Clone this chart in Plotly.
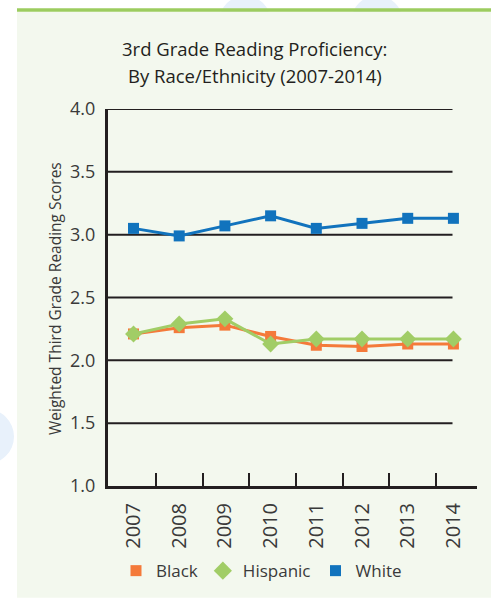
import plotly.graph_objects as go

# Weighted third grade reading scores by race/ethnicity
years = ["2007", "2008", "2009", "2010", "2011", "2012", "2013", "2014"]
black = [2.21, 2.26, 2.28, 2.19, 2.12, 2.11, 2.13, 2.13]
hispanic = [2.21, 2.29, 2.33, 2.13, 2.17, 2.17, 2.17, 2.17]
white = [3.05, 2.99, 3.07, 3.15, 3.05, 3.09, 3.13, 3.13]
y_ticks = [1.0, 1.5, 2.0, 2.5, 3.0, 3.5, 4.0]

W, H = 491, 601
L, R, T, B = 108, 14, 109, 111
PW, PH = W - L - R, H - T - B

ORANGE = "#f47a3a"
GREEN = "#a1cd66"
BLUE = "#1173bd"
INK = "#231f20"
TEXT = "#3a3a3a"
PANEL = "#f3f8ee"
WATERMARK = "#e8f1fb"
FONT = "Open Sans"


def px_x(px):
    return (px - L) / PW


def px_y(py):
    return (H - B - py) / PH


xpos = list(range(len(years)))

fig = go.Figure()
series = [("Black", black, ORANGE, "square", 11, 11),
          ("Hispanic", hispanic, GREEN, "diamond", 13, 14),
          ("White", white, BLUE, "square", 11, 11)]
for name, vals, color, symbol, size, leg_size in series:
    fig.add_trace(go.Scatter(
        x=xpos, y=vals, name=name, mode="lines+markers",
        line=dict(color=color, width=3),
        marker=dict(symbol=symbol, size=size, color=color),
        cliponaxis=False, showlegend=False, legendgroup=name,
    ))
    # marker-only legend entry
    fig.add_trace(go.Scatter(
        x=[None], y=[None], name=name, mode="markers",
        marker=dict(symbol=symbol, size=leg_size, color=color),
        showlegend=True, legendgroup=name,
    ))

shapes = []
# faint background emblems peeking around the panel
for cx, cy, r in [(245, 20, 25.5), (377, 20, 25.5), (-14, 440, 28)]:
    shapes.append(dict(type="circle", xref="paper", yref="paper", layer="below",
                       x0=px_x(cx - r), x1=px_x(cx + r),
                       y0=px_y(cy + r), y1=px_y(cy - r),
                       fillcolor=WATERMARK, line=dict(width=0)))
# light green panel with a green rule on top
shapes.append(dict(type="rect", xref="paper", yref="paper", layer="below",
                   x0=px_x(17), x1=px_x(W + 2), y0=px_y(H + 2), y1=px_y(10.7),
                   fillcolor=PANEL, line=dict(width=0)))
shapes.append(dict(type="rect", xref="paper", yref="paper", layer="below",
                   x0=px_x(17), x1=px_x(W + 2), y0=px_y(10.7), y1=px_y(7.3),
                   fillcolor="#9ccc5f", line=dict(width=0)))
# horizontal gridlines stop at the last year
for v in y_ticks[1:]:
    shapes.append(dict(type="line", xref="x", yref="y", layer="below",
                       x0=-0.56, x1=6.98, y0=v, y1=v,
                       line=dict(color=INK, width=2)))

annotations = [
    dict(text="3rd Grade Reading Proficiency:", xref="paper", yref="paper",
         x=px_x(254), y=px_y(48), showarrow=False,
         xanchor="center", yanchor="middle",
         font=dict(family=FONT, size=18.5, color=INK)),
    dict(text="By Race/Ethnicity (2007-2014)", xref="paper", yref="paper",
         x=px_x(255), y=px_y(75), showarrow=False,
         xanchor="center", yanchor="middle",
         font=dict(family=FONT, size=18.5, color=INK)),
    dict(text="Weighted Third Grade Reading Scores", xref="paper", yref="paper",
         x=px_x(55), y=px_y(301), textangle=-90, showarrow=False,
         xanchor="center", yanchor="middle",
         font=dict(family=FONT, size=15.5, color=TEXT)),
]

# tick marks sit between the years
minor_ticks = [0.49 + 1.022 * i for i in range(len(years) - 1)]

fig.update_layout(
    width=W, height=H,
    margin=dict(l=L, r=R, t=T, b=B),
    paper_bgcolor="white",
    plot_bgcolor="rgba(0,0,0,0)",
    shapes=shapes,
    annotations=annotations,
    showlegend=True,
    legend=dict(orientation="h", x=px_x(116), y=px_y(576),
                xanchor="left", yanchor="middle",
                font=dict(family=FONT, size=17, color=TEXT),
                bgcolor="rgba(0,0,0,0)"),
    xaxis=dict(
        range=[-0.558, 7.516], tickmode="array", tickvals=xpos, ticktext=years,
        tickangle=-90, ticks="", showgrid=False, zeroline=False,
        showline=True, linecolor=INK, linewidth=3,
        tickfont=dict(family=FONT, size=20, color=TEXT),
        ticklabelstandoff=6,
        minor=dict(tickmode="array", tickvals=minor_ticks, ticks="inside",
                   ticklen=13, tickwidth=2, tickcolor=INK, showgrid=False),
    ),
    yaxis=dict(
        range=[1.0, 4.0], tickmode="array", tickvals=y_ticks,
        ticktext=[f"{v:.1f}" for v in y_ticks],
        ticks="", showgrid=False, zeroline=False,
        showline=True, linecolor=INK, linewidth=3,
        tickfont=dict(family=FONT, size=18, color=TEXT),
        ticklabelstandoff=6,
    ),
)

fig.write_html("out.html")
